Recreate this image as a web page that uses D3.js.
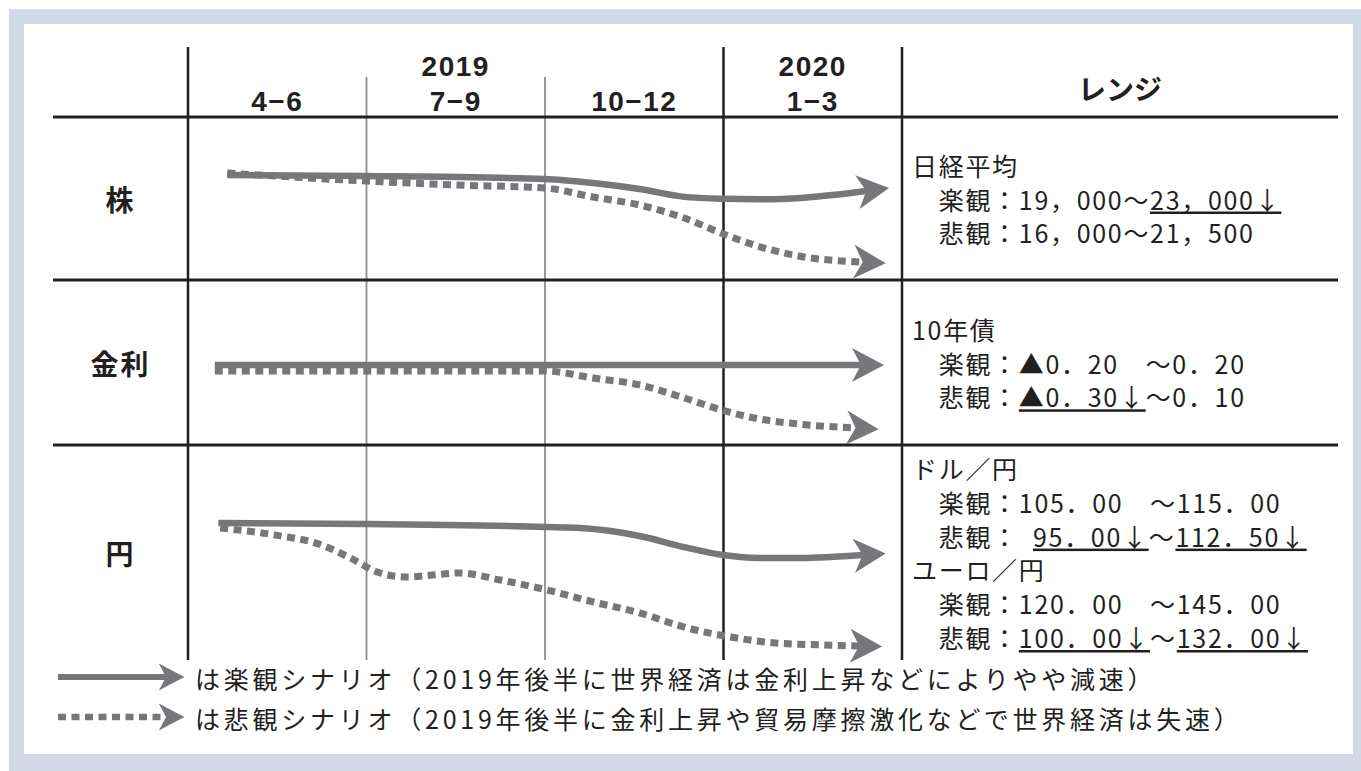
<!DOCTYPE html>
<html>
<head>
<meta charset="utf-8">
<script src="https://cdn.jsdelivr.net/npm/d3@7"></script>
<style>
body { margin: 0; background: #fff; }
text { fill: #231f20; }
</style>
</head>
<body>
<script>
// column / row labels
var quarters = ["4\u22126", "7\u22129", "10\u221212", "1\u22123"];
var years = [{label: "2019", q: 1}, {label: "2020", q: 3}];
var assets = ["株", "金利", "円"];

// scenario paths: [quarter position (0 = start of 4-6), level inside the row (0 bottom .. 100 top)]
// last point = where the arrow head starts
var stockBull = [[0.22, 64.4], [1, 63.8], [2, 62.0], [2.27, 59.5], [2.53, 55.8], [2.78, 51.0], [3, 49.8], [3.2, 49.5], [3.45, 50.5], [3.8, 54.6]];
var stockBear = [[0.22, 65.6], [1, 60.7], [1.5, 58.3], [2, 56.4], [2.27, 50.9], [2.53, 46.0], [2.78, 38.0], [3, 28.2], [3.17, 21.5], [3.42, 14.7], [3.78, 11.0]];
var rateBull = [[0.15, 48.5], [2, 48.5], [3.77, 48.5]];
var rateBear = [[0.15, 44.8], [1, 44.8], [2, 44.8], [2.27, 40.6], [2.53, 36.4], [2.78, 28.5], [2.99, 21.2], [3.17, 16.4], [3.42, 12.7], [3.74, 10.3]];
var yenBull = [[0.17, 63.7], [1, 63.3], [2, 61.9], [2.2, 61.4], [2.53, 57.7], [2.78, 52.5], [3, 48.8], [3.2, 47.4], [3.43, 47.4], [3.78, 48.8]];
var yenBear = [[0.18, 61.4], [0.49, 58.1], [0.75, 53.5], [0.91, 47.4], [1.06, 40.9], [1.22, 38.6], [1.37, 39.5], [1.52, 40.5], [1.75, 37.2], [2.01, 32.6], [2.27, 27.0], [2.53, 21.9], [2.78, 15.3], [3.04, 10.7], [3.29, 7.9], [3.55, 7.0], [3.76, 6.5]];

// range text, "_" marks underlined parts
var stockRange = ["日経平均", "　楽観：19，000～_23，000↓_", "　悲観：16，000～21，500"];
var rateRange = ["10年債", "　楽観：▲0．20　～0．20", "　悲観：_▲0．30↓_～0．10"];
var yenRange = ["ドル／円", "　楽観：105．00　～115．00", "　悲観：\u2002_95．00↓_～_112．50↓_",
                "ユーロ／円", "　楽観：120．00　～145．00", "　悲観：_100．00↓_～_132．00↓_"];

var legendTexts = ["は楽観シナリオ（2019年後半に世界経済は金利上昇などによりやや減速）",
                   "は悲観シナリオ（2019年後半に金利上昇や貿易摩擦激化などで世界経済は失速）"];

var W = 1361, H = 771;
var ink = "#231f20", lineGrey = "#77777b";
var jp = "'Noto Sans CJK JP', 'Noto Sans', sans-serif";
var latin = "'Liberation Sans', Arial, sans-serif";

var tableLeft = 53, tableRight = 1338, headTop = 47, tableBottom = 660;
var rowEdges = [117, 280, 445, tableBottom];

var svg = d3.select("body").append("svg").attr("width", W).attr("height", H);

// frame
svg.append("rect").attr("x", 9).attr("y", 9).attr("width", W - 9).attr("height", H - 9).attr("fill", "#d1d9e6");
svg.append("rect").attr("x", 24).attr("y", 24).attr("width", 1329).attr("height", 730).attr("fill", "#fff");

var x = d3.scaleLinear().domain([0, 4]).range([188, 902]);

var defs = svg.append("defs");
function addHead(id, s) {
    defs.append("marker")
        .attr("id", id)
        .attr("markerUnits", "userSpaceOnUse")
        .attr("markerWidth", 80).attr("markerHeight", 80)
        .attr("refX", 0).attr("refY", 0)
        .attr("viewBox", "-40 -40 80 80")
        .attr("orient", "auto")
        .append("path")
        .attr("d", "M" + 23 * s + ",0L" + (-9 * s) + "," + (-17 * s) + "L0,0L" + (-9 * s) + "," + (17 * s) + "Z")
        .attr("fill", lineGrey);
}
addHead("head", 1);
addHead("headSmall", 0.8);

// grid
var grid = svg.append("g");
[1, 2].forEach(function (q) {
    grid.append("line").attr("x1", x(q)).attr("x2", x(q)).attr("y1", 77).attr("y2", tableBottom)
        .attr("stroke", "#8e8e8e").attr("stroke-width", 1.8);
});
[0, 3, 4].forEach(function (q) {
    grid.append("line").attr("x1", x(q)).attr("x2", x(q)).attr("y1", headTop).attr("y2", tableBottom)
        .attr("stroke", ink).attr("stroke-width", 2.5);
});
rowEdges.slice(0, 3).forEach(function (y) {
    grid.append("line").attr("x1", tableLeft).attr("x2", tableRight).attr("y1", y).attr("y2", y)
        .attr("stroke", ink).attr("stroke-width", 3);
});

// header
var head = svg.append("g").attr("font-family", latin).attr("font-weight", "bold").attr("font-size", 28)
    .attr("text-anchor", "middle").attr("letter-spacing", 1.5);
quarters.forEach(function (q, i) {
    head.append("text").attr("x", x(i + 0.5)).attr("y", 101).attr("dominant-baseline", "central").text(q);
});
years.forEach(function (d) {
    head.append("text").attr("x", x(d.q + 0.5)).attr("y", 66).attr("dominant-baseline", "central").text(d.label);
});
svg.append("text").attr("x", (x(4) + tableRight) / 2).attr("y", 88).attr("text-anchor", "middle")
    .attr("dominant-baseline", "central").attr("font-family", jp).attr("font-weight", "bold").attr("font-size", 28)
    .text("レンジ");

// row labels
assets.forEach(function (a, i) {
    svg.append("text").attr("x", (tableLeft + x(0)) / 2).attr("y", (rowEdges[i] + rowEdges[i + 1]) / 2)
        .attr("text-anchor", "middle").attr("dominant-baseline", "central")
        .attr("font-family", jp).attr("font-weight", "bold").attr("font-size", 28).attr("letter-spacing", 2)
        .text(a);
});

// scenario lines
var scenarios = [[stockBull, stockBear], [rateBull, rateBear], [yenBull, yenBear]];
scenarios.forEach(function (pair, i) {
    var y = d3.scaleLinear().domain([0, 100]).range([rowEdges[i + 1], rowEdges[i]]);
    var line = d3.line()
        .x(function (d) { return x(d[0]); })
        .y(function (d) { return y(d[1]); })
        .curve(d3.curveMonotoneX);
    svg.append("path").attr("d", line(pair[1]))
        .attr("fill", "none").attr("stroke", lineGrey).attr("stroke-width", 7)
        .attr("stroke-dasharray", "8,5.5").attr("marker-end", "url(#head)");
    svg.append("path").attr("d", line(pair[0]))
        .attr("fill", "none").attr("stroke", lineGrey).attr("stroke-width", 6.5)
        .attr("marker-end", "url(#head)");
});

// range column
var lineGap = 33.8;
[stockRange, rateRange, yenRange].forEach(function (lines, i) {
    var mid = (rowEdges[i] + rowEdges[i + 1]) / 2;
    var y0 = mid - (lines.length - 1) * lineGap / 2;
    lines.forEach(function (s, j) {
        var t = svg.append("text").attr("x", 912).attr("y", y0 + j * lineGap)
            .attr("dominant-baseline", "central").attr("font-family", jp).attr("font-size", 25)
            .attr("letter-spacing", 1.7).attr("xml:space", "preserve");
        s.split("_").forEach(function (part, k) {
            if (!part) return;
            var sp = t.append("tspan").text(part);
            if (k % 2 === 1) sp.style("text-decoration", "underline");
        });
    });
});

// legend
var legend = svg.append("g");
[[58, 677, false], [58, 717, true]].forEach(function (d, i) {
    var p = legend.append("path").attr("d", "M" + d[0] + "," + d[1] + "H" + 166)
        .attr("fill", "none").attr("stroke", lineGrey)
        .attr("stroke-width", d[2] ? 6.5 : 6).attr("marker-end", "url(#headSmall)");
    if (d[2]) p.attr("stroke-dasharray", "8,5.5");
    legend.append("text").attr("x", 195).attr("y", d[1] + 1).attr("dominant-baseline", "central")
        .attr("font-family", jp).attr("font-size", 25).attr("letter-spacing", 3.75)
        .text(legendTexts[i]);
});
</script>
</body>
</html>
